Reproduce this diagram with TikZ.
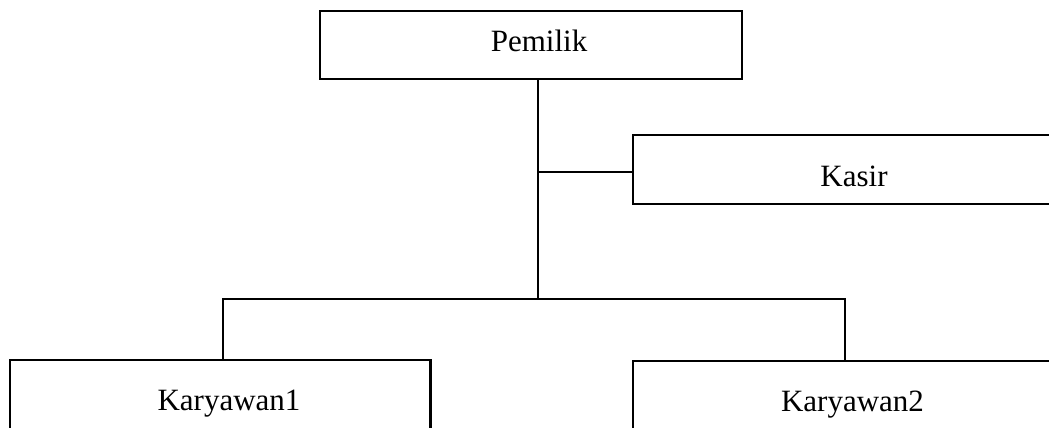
\documentclass[tikz,border=0pt]{standalone}
\usepackage{fontspec}
\setmainfont{Liberation Serif}
\begin{document}
\begin{tikzpicture}[x=1pt,y=-1pt,
  box/.style={draw=black, line width=2.6pt, fill=white, inner sep=0pt},
  txt/.style={anchor=base, inner sep=0pt, font=\fontsize{31}{36}\selectfont},
  conn/.style={draw=black, line width=2.4pt}]
\path[use as bounding box, clip] (0,0) rectangle (1049,428);
% boxes
\node[box, minimum width=422, minimum height=68] (pemilik) at (531,45) {};
\node[box, minimum width=442, minimum height=69] (kasir) at (854,169.5) {};
\node[box, minimum width=420.7, minimum height=69] (k1) at (220.3,394.5) {};
\node[box, minimum width=440, minimum height=69] (k2) at (853,395.5) {};
% texts
\node[txt] (tpemilik) at (539,52) {Pemilik};
\node[txt] (tkasir) at (854,186.7) {Kasir};
\node[txt] (tk1) at (229,410) {Karyawan1};
\node[txt] (tk2) at (852.5,411.5) {Karyawan2};
% connectors
\coordinate (j) at (537.7,299);
\coordinate (jk) at (537.7,172);
\coordinate (b1) at (222.7,299);
\coordinate (b2) at (845,299);
\draw[conn] (pemilik.south -| j) -- (j);
\draw[conn] (jk) -- (jk -| kasir.west);
\draw[conn, line cap=rect] (b1) -- (b2);
\draw[conn] (b1) -- (b1 |- k1.north);
\draw[conn] (b2) -- (b2 |- k2.north);
\end{tikzpicture}
\end{document}
